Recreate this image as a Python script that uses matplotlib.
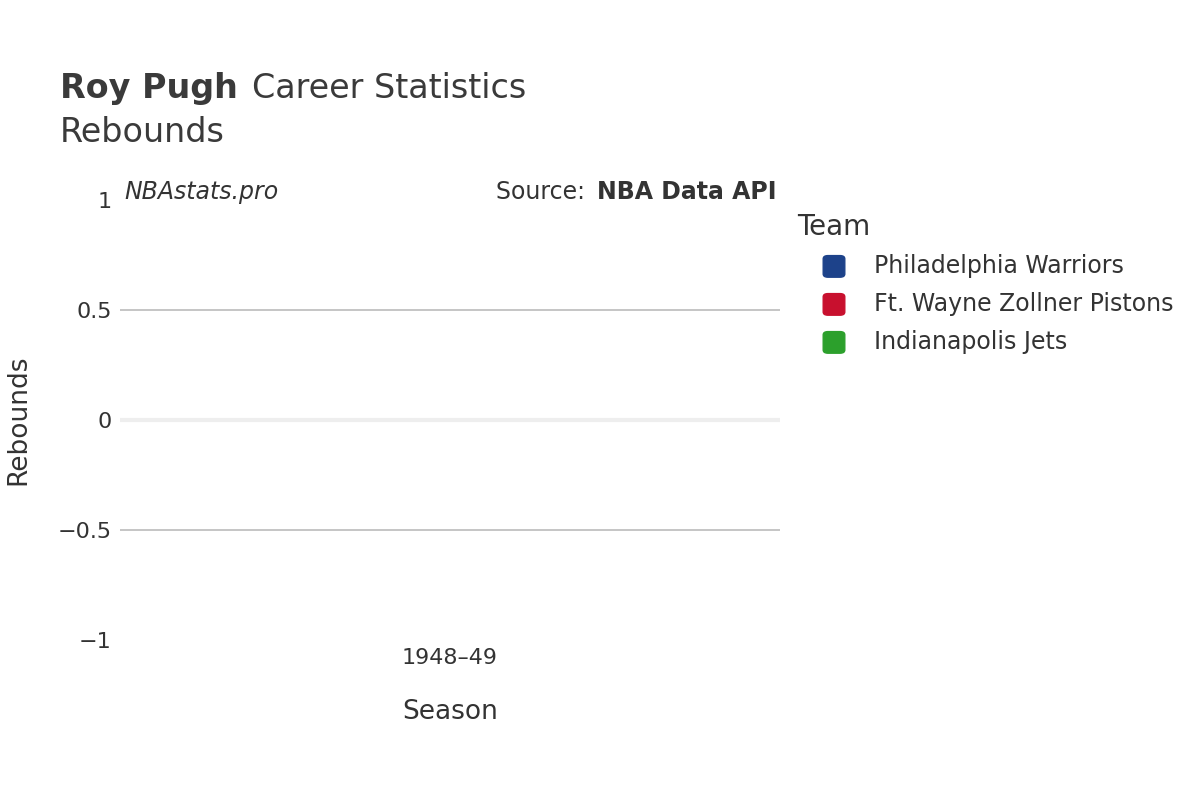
import matplotlib
matplotlib.use("Agg")
import matplotlib.pyplot as plt
from matplotlib.patches import FancyBboxPatch
import numpy as np

seasons = ["1948–49"]
teams = ["Philadelphia Warriors", "Ft. Wayne Zollner Pistons", "Indianapolis Jets"]
colors = ["#1d428a", "#c8102e", "#2ca02c"]
rebounds = [[0], [0], [0]]

fig = plt.figure(figsize=(12, 8), dpi=100)
ax = fig.add_axes([0.1, 0.2, 0.55, 0.55])
x = np.arange(len(seasons))
w = 0.8 / len(teams)
for i, (t, c, v) in enumerate(zip(teams, colors, rebounds)):
    ax.bar(x + (i - 1) * w, v, w, color=c, edgecolor="#eeeeee", linewidth=1)
ax.set_xlim(-0.5, 0.5)
ax.set_ylim(-1, 1)
ax.set_yticks([-1, -0.5, 0, 0.5, 1])
ax.set_yticklabels(["−1", "−0.5", "0", "0.5", "1"])
ax.set_xticks(x)
ax.set_xticklabels(seasons)
for s in ax.spines.values():
    s.set_visible(False)
ax.tick_params(length=0, labelsize=16, colors="#333333", pad=6)
for yv in [-0.5, 0.5]:
    ax.axhline(yv, color="#bbbbbb", lw=1.2, zorder=0)
ax.axhline(0, color="#eeeeee", lw=3, zorder=0)
ax.set_xlabel("Season", fontsize=19, color="#333333", labelpad=22)
fig.text(0.015, 0.475, "Rebounds", fontsize=19, color="#333333", va="center", ha="center", rotation=90)

fig.text(0.05, 0.889, "Roy Pugh", fontsize=24, weight="bold", color="#3a3a3a", va="center")
fig.text(0.21, 0.889, "Career Statistics", fontsize=24, color="#3a3a3a", va="center")
fig.text(0.05, 0.834, "Rebounds", fontsize=24, color="#3a3a3a", va="center")
fig.text(0.104, 0.76, "NBAstats.pro", fontsize=17, style="italic", color="#333333", va="center")
fig.text(0.494, 0.76, "Source: ", fontsize=17, color="#333333", va="center", ha="right")
fig.text(0.647, 0.76, "NBA Data API", fontsize=17, weight="bold", color="#333333", va="center", ha="right")

fig.text(0.664, 0.716, "Team", fontsize=20, color="#333333", va="center")
for i, (t, c) in enumerate(zip(teams, colors)):
    yc = 0.667 - i * 0.0475
    fig.patches.append(FancyBboxPatch((0.686, yc - 0.0135), 0.018, 0.027,
                                      boxstyle="round,pad=0,rounding_size=0.004",
                                      transform=fig.transFigure, color=c))
    fig.text(0.728, yc, t, fontsize=17, color="#333333", va="center")

fig.savefig("out.png", dpi=100)
